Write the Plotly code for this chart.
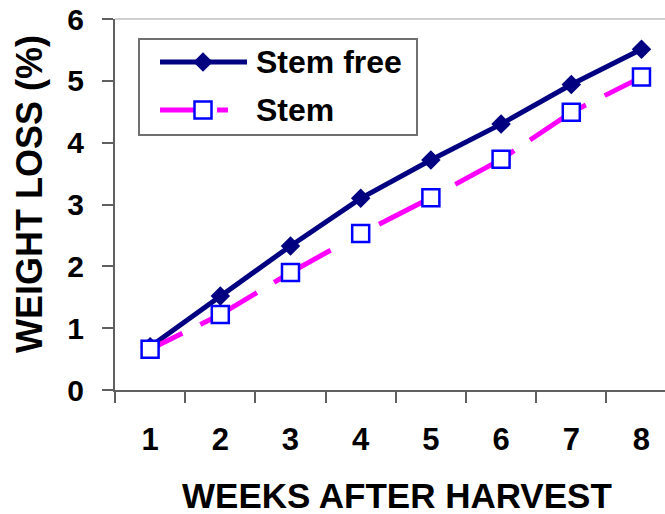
import plotly.graph_objects as go

weeks = ["1", "2", "3", "4", "5", "6", "7", "8"]
stem_free = [0.70, 1.52, 2.33, 3.10, 3.72, 4.30, 4.94, 5.51]
stem = [0.66, 1.22, 1.90, 2.53, 3.11, 3.73, 4.49, 5.06]
series_names = ["Stem free", "Stem"]
y_ticks = [0, 1, 2, 3, 4, 5, 6]

FONT = "Liberation Sans, Arial, sans-serif"
NAVY = "#000080"
MAGENTA = "#FF00FF"
BLUE = "#0000FF"
AXIS = "#606060"
DASH = "36px,20px,65px,20px,65px,55px,63px,23px,68px,19px,66px,21px,90px"

fig = go.Figure()

fig.add_trace(go.Scatter(
    x=weeks, y=stem_free, mode="lines+markers", name=series_names[0],
    line=dict(color=NAVY, width=5),
    marker=dict(symbol="diamond", size=15, color=NAVY, line=dict(width=0)),
    showlegend=False, cliponaxis=False))

fig.add_trace(go.Scatter(
    x=weeks, y=stem, mode="lines+markers", name=series_names[1],
    line=dict(color=MAGENTA, width=5, dash=DASH),
    marker=dict(symbol="square", size=17, color="white", line=dict(color=BLUE, width=2.5)),
    showlegend=False, cliponaxis=False))

# legend drawn in pixel-like overlay coordinates
fig.add_trace(go.Scatter(
    x=[203], y=[62], xaxis="x2", yaxis="y2", mode="markers",
    marker=dict(symbol="diamond", size=15, color=NAVY), showlegend=False, hoverinfo="skip", cliponaxis=False))
fig.add_trace(go.Scatter(
    x=[203], y=[110], xaxis="x2", yaxis="y2", mode="markers",
    marker=dict(symbol="square", size=17, color="white", line=dict(color=BLUE, width=2.5)),
    showlegend=False, hoverinfo="skip", cliponaxis=False))

shapes = [
    dict(type="rect", xref="x2", yref="y2", x0=139, x1=417, y0=39, y1=135,
         line=dict(color="#707070", width=2), fillcolor="rgba(0,0,0,0)", layer="below"),
    dict(type="line", xref="x2", yref="y2", x0=160, x1=247, y0=62, y1=62,
         line=dict(color=NAVY, width=5), layer="below"),
    dict(type="line", xref="x2", yref="y2", x0=160, x1=200, y0=110, y1=110,
         line=dict(color=MAGENTA, width=5), layer="below"),
    dict(type="line", xref="x2", yref="y2", x0=217, x1=228, y0=110, y1=110,
         line=dict(color=MAGENTA, width=5), layer="below"),
    dict(type="line", xref="paper", yref="paper", x0=0, x1=1, y0=1, y1=1,
         line=dict(color="#A0A0A0", width=1)),
]

annotations = [
    dict(xref="x2", yref="y2", x=254, y=62, text=series_names[0], showarrow=False,
         xanchor="left", yanchor="middle", font=dict(family=FONT, size=32, color="black", weight=700)),
    dict(xref="x2", yref="y2", x=254, y=110, text=series_names[1], showarrow=False,
         xanchor="left", yanchor="middle", font=dict(family=FONT, size=32, color="black", weight=700)),
    dict(xref="paper", yref="paper", x=(397 - 115) / 550, y=(390 - 496) / 371,
         text="WEEKS AFTER HARVEST", showarrow=False, xanchor="center", yanchor="middle",
         font=dict(family=FONT, size=35, color="black", weight=700)),
    dict(xref="paper", yref="paper", x=(29 - 115) / 550, y=(390 - 194) / 371,
         text="WEIGHT LOSS (%)", showarrow=False, textangle=-90, xanchor="center", yanchor="middle",
         font=dict(family=FONT, size=36, color="black", weight=700)),
]

fig.update_layout(
    width=665, height=514,
    margin=dict(l=115, r=0, t=19, b=124, pad=0),
    paper_bgcolor="white", plot_bgcolor="white",
    showlegend=False,
    shapes=shapes, annotations=annotations,
    xaxis=dict(type="category", range=[-0.5, 7.335], tickson="boundaries",
               ticks="outside", ticklen=11, tickwidth=1.5, tickcolor=AXIS,
               showline=True, linecolor=AXIS, linewidth=2, showgrid=False, zeroline=False,
               tickfont=dict(family=FONT, size=31, color="black", weight=700),
               ticklabelstandoff=21),
    yaxis=dict(range=[0, 6], tickvals=y_ticks, ticks="outside", ticklen=11, tickwidth=1.5,
               tickcolor=AXIS, showline=True, linecolor=AXIS, linewidth=2, showgrid=False,
               zeroline=False, tickfont=dict(family=FONT, size=30, color="black", weight=700),
               ticklabelstandoff=12),
    xaxis2=dict(overlaying="x", range=[115, 665], visible=False, anchor="y2", fixedrange=True),
    yaxis2=dict(overlaying="y", range=[390, 19], visible=False, anchor="x2", fixedrange=True),
)

fig.write_html("out.html")
